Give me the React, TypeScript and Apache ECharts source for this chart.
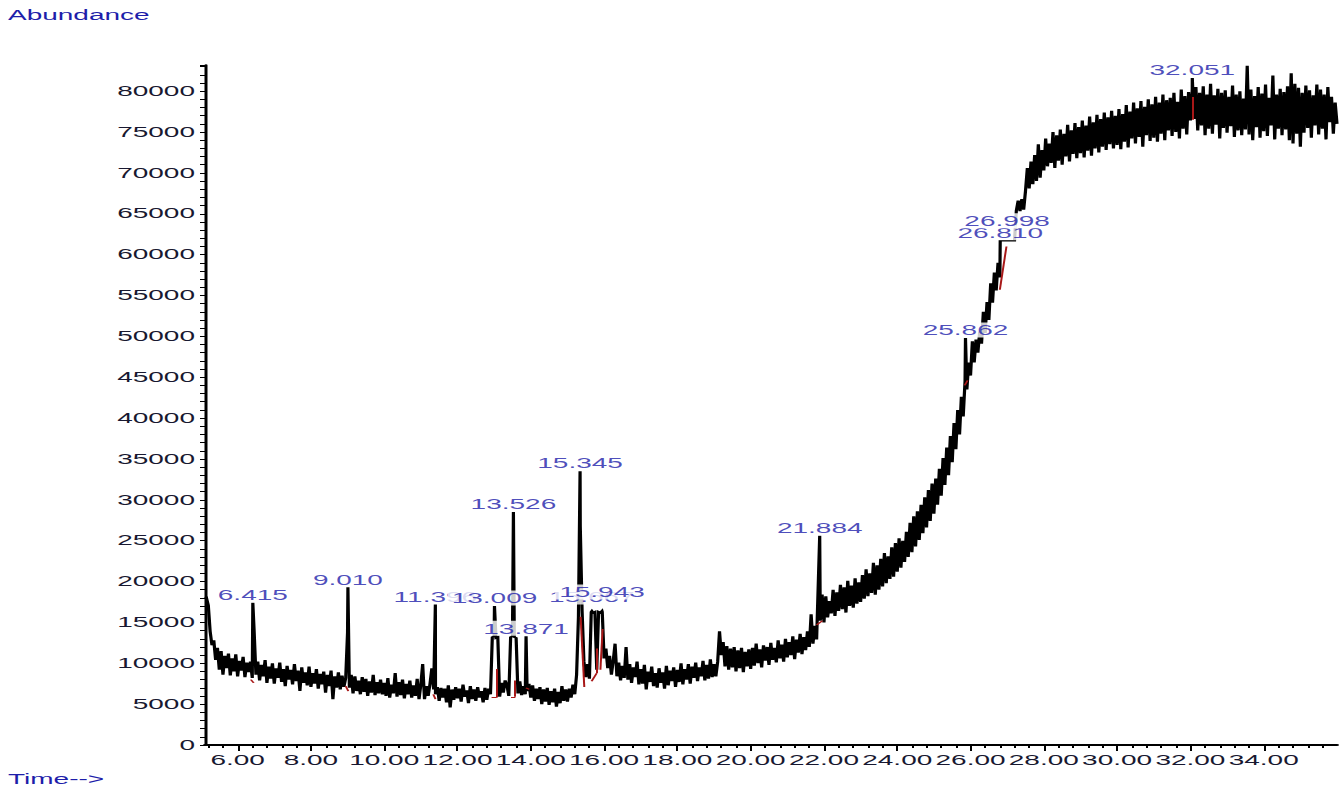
import { useEffect, useRef } from 'react';
import * as echarts from 'echarts';

// ---- layout of the drawing surface (the original is stretched 2x horizontally) ----
const CHART_W = 671.5;
const CHART_H = 791;
const FONT = "'Liberation Sans', Arial, sans-serif";

// ---- data: total ion current, abundance in thousands, one scan every 0.05 min ----
const scanStep = 0.05;
const segmentStart = [5.1, 10.0, 15.0, 20.0, 25.0, 30.0];

const tic05 = [
  17.9, 18.0, 17.1, 13.9, 12.2, 12.8, 10.4, 11.9,
  9.2, 11.5, 8.6, 10.9, 9.4, 11.2, 8.5, 10.6, 9.0, 11.1,
  8.4, 10.3, 9.1, 10.8, 8.3, 10.1, 8.9, 10.2, 8.2, 14.0,
  8.6, 10.2, 7.9, 9.8, 8.4, 10.4, 7.6, 9.6, 8.1, 10.0,
  7.5, 9.4, 8.2, 10.1, 7.7, 9.3, 7.2, 9.7, 8.0, 9.2,
  7.4, 9.9, 7.8, 9.1, 6.6, 9.5, 7.6, 8.9, 7.3, 9.6,
  7.1, 8.8, 7.5, 9.3, 6.9, 8.7, 7.4, 9.0, 6.4, 8.6,
  7.2, 9.1, 5.6, 8.4, 7.0, 8.9, 6.8, 8.5, 7.1, 8.2,
  13.8, 7.0, 8.6, 6.3, 8.4, 6.6, 7.9, 6.2, 8.3, 6.5,
  8.1, 6.0, 7.8, 6.4, 8.6, 6.1, 7.7, 6.3, 8.0, 6.2,
];
const tic10 = [
  7.6, 6.0, 8.2, 5.8, 7.4, 6.3, 8.8, 5.9, 7.7, 6.1,
  8.0, 5.7, 7.5, 6.2, 7.9, 5.8, 7.3, 6.0, 8.1, 5.6,
  7.4, 9.9, 5.6, 7.2, 6.0, 7.5, 9.4, 6.8, 6.2, 7.1,
  5.4, 7.0, 5.8, 6.9, 5.2, 7.3, 4.6, 6.8, 5.5, 7.1,
  5.7, 6.9, 5.3, 7.4, 5.9, 6.7, 5.1, 7.2, 5.6, 6.8,
  5.4, 7.1, 5.8, 6.6, 5.2, 7.0, 5.5, 6.9, 6.2, 13.2,
  13.3, 13.1, 13.2, 5.9, 7.6, 6.4, 7.9, 7.3, 6.0, 13.2,
  13.3, 13.2, 13.1, 6.3, 7.8, 6.1, 7.2, 6.2, 6.6, 7.5,
  5.8, 7.3, 5.4, 6.9, 5.6, 7.1, 5.0, 6.8, 5.3, 7.0,
  4.9, 6.6, 5.2, 6.9, 4.7, 6.5, 5.1, 7.2, 5.4, 6.8,
];
const tic15 = [
  5.3, 6.9, 5.8, 7.4, 6.2, 8.6, 15.6, 26.8, 16.4, 10.2,
  8.3, 9.9, 8.1, 16.3, 16.2, 16.3, 9.2, 16.3, 16.2, 16.3,
  10.6, 11.8, 9.4, 10.9, 8.6, 10.3, 12.4, 8.4, 10.1, 7.9,
  9.7, 8.2, 12.0, 8.0, 9.9, 7.6, 9.5, 8.3, 10.2, 7.4,
  9.3, 7.5, 9.8, 6.8, 9.0, 7.7, 9.6, 7.2, 8.8, 7.0,
  9.4, 7.6, 8.9, 6.9, 9.7, 7.3, 9.1, 7.8, 9.5, 7.1,
  9.2, 7.7, 10.0, 7.4, 9.3, 8.0, 9.9, 7.5, 9.6, 8.2,
  10.1, 7.8, 9.5, 8.4, 10.3, 7.9, 9.8, 8.1, 10.5, 8.3,
  9.9, 8.4, 10.2, 13.9, 11.0, 12.6, 9.6, 12.1, 9.2, 11.8,
  9.5, 12.0, 9.0, 11.6, 9.4, 11.9, 8.9, 11.4, 9.6, 11.7,
];
const tic20 = [
  9.3, 11.9, 9.7, 12.4, 10.0, 11.7, 9.5, 12.2, 10.3, 12.0,
  9.8, 12.5, 10.4, 11.9, 10.1, 12.8, 10.6, 12.3, 10.2, 13.0,
  10.7, 12.6, 11.0, 13.3, 10.5, 12.9, 11.3, 13.6, 11.1, 13.2,
  11.6, 13.9, 12.0, 16.0, 12.4, 14.6, 12.9, 20.5, 15.2, 18.4,
  15.0, 18.2, 15.6, 17.6, 16.1, 19.0, 15.8, 18.7, 16.4, 19.6,
  16.6, 19.3, 16.2, 20.1, 17.0, 19.5, 16.8, 20.4, 17.3, 19.9,
  17.5, 20.8, 17.9, 21.5, 18.2, 21.0, 18.6, 22.3, 18.4, 22.0,
  19.0, 22.8, 19.4, 23.5, 19.8, 23.1, 20.3, 24.2, 20.6, 24.7,
  21.2, 25.3, 21.7, 25.0, 22.4, 26.1, 23.0, 27.2, 23.6, 28.0,
  24.3, 28.6, 25.1, 29.4, 25.9, 30.3, 26.6, 31.2, 27.4, 32.0,
];
const tic25 = [
  28.3, 32.6, 29.4, 33.8, 30.5, 35.1, 31.8, 36.4, 33.0, 37.8,
  34.6, 39.4, 36.2, 41.0, 38.0, 42.6, 40.2, 44.5, 43.5, 46.8,
  45.2, 49.4, 46.8, 49.6, 48.0, 50.6, 49.1, 53.0, 50.4, 54.2,
  52.0, 56.5, 54.1, 57.8, 55.6, 59.0, 57.2, 61.7, 61.7, 61.7,
  61.7, 61.7, 61.7, 61.7, 61.7, 65.4, 66.6, 65.3, 66.8, 65.5,
  67.8, 70.6, 68.1, 71.4, 68.6, 72.2, 69.0, 73.5, 69.4, 72.8,
  70.3, 74.2, 70.8, 73.6, 71.2, 75.0, 70.6, 74.6, 71.5, 75.3,
  71.0, 74.8, 72.0, 75.9, 71.4, 75.2, 72.3, 76.1, 71.8, 75.6,
  72.4, 76.4, 71.9, 75.8, 72.7, 76.9, 72.1, 76.2, 73.0, 77.1,
  72.5, 76.6, 73.2, 77.4, 72.8, 76.8, 73.5, 77.6, 73.0, 77.0,
];
const tic30 = [
  73.4, 77.8, 72.9, 77.2, 73.8, 78.3, 73.1, 77.5, 74.2, 78.6,
  73.6, 77.9, 74.4, 78.8, 73.2, 78.1, 74.6, 79.0, 73.9, 78.4,
  74.3, 79.3, 73.8, 78.6, 74.8, 79.6, 74.0, 78.9, 75.2, 79.2,
  74.5, 79.8, 75.0, 78.7, 74.2, 80.2, 75.4, 79.4, 74.7, 79.9,
  76.4, 80.2, 76.6, 80.5, 75.2, 79.8, 75.8, 80.6, 74.6, 79.6,
  75.4, 80.9, 74.8, 79.5, 75.9, 80.3, 74.2, 79.8, 75.5, 80.1,
  74.9, 79.3, 75.7, 80.7, 74.4, 79.6, 75.2, 80.0, 74.6, 79.1,
  75.3, 83.1, 74.7, 80.2, 74.0, 79.4, 75.6, 80.5, 74.3, 79.7,
  75.1, 80.8, 74.5, 79.2, 75.8, 81.9, 74.1, 79.6, 75.4, 80.3,
  74.6, 79.9, 75.3, 80.6, 74.0, 82.2, 73.6, 80.9, 74.8, 80.4,
  73.2, 79.8, 74.9, 80.7, 75.5, 80.1, 74.3, 79.5, 75.8, 80.8,
  74.7, 80.2, 75.4, 79.6, 74.1, 80.5, 76.2, 79.3, 74.8, 78.6,
  76.0,
];
const ticSegments = [tic05, tic10, tic15, tic20, tic25, tic30];

// ---- integrated peaks: apex time (min), apex abundance, label ----
const peakTime = [6.415, 9.01, 11.396, 13.009, 13.526, 13.871, 15.345, 15.667, 15.943, 21.884, 25.862, 26.81, 26.998, 32.051];
const peakAbundance = [17400, 19300, 17200, 17000, 28500, 13300, 33500, 16400, 16400, 25600, 49800, 61700, 61700, 81600];
const peakLabel = ['6.415', '9.010', '11.396', '13.009', '13.526', '13.871', '15.345', '15.667', '15.943', '21.884', '25.862', '26.810', '26.998', '32.051'];
// extra upward shift of a label that the instrument stacked above a neighbour
const peakLabelLift = [0, 0, 0, 0, 0, 0, 0, 6, 11, 0, 0, 0, 12, 0];

// ---- integration marks (red): [t1, abundance1, t2, abundance2] ----
const integrationMarks = [
  [6.36, 8000, 6.44, 7600],
  [8.95, 7200, 9.02, 6600],
  [11.34, 6200, 11.4, 5600],
  [12.93, 5800, 13.07, 5800],
  [13.07, 5800, 13.07, 9300],
  [13.46, 5900, 13.58, 5900],
  [13.58, 5900, 13.58, 7900],
  [13.87, 7000, 13.96, 6800],
  [15.36, 15700, 15.46, 7100],
  [15.66, 7800, 15.8, 8800],
  [15.8, 8800, 15.81, 11800],
  [15.9, 9200, 15.96, 14200],
  [21.8, 14700, 21.96, 15200],
  [25.84, 44000, 25.92, 44600],
  [26.8, 55700, 26.98, 61000],
  [32.06, 79300, 32.07, 76500],
];

// ---- axes ----
const timeMin = 5.11;
const timeMax = 36.0;
const abundanceMax = 83200;
const xMajorTicks = [6, 8, 10, 12, 14, 16, 18, 20, 22, 24, 26, 28, 30, 32, 34];
const xMinorStep = 0.4;
const yLabelValues = [0, 5000, 10000, 15000, 20000, 25000, 30000, 35000, 40000, 45000, 50000, 55000, 60000, 65000, 70000, 75000, 80000];

const AXIS_TEXT = '#181830';
const BLUE_TEXT = '#1e1eaa';

export default function App() {
  const ref = useRef<HTMLDivElement>(null);

  useEffect(() => {
    const el = ref.current;
    if (!el) return;
    const chart = echarts.init(el, null, { renderer: 'svg', width: CHART_W, height: CHART_H });

    const tic: [number, number][] = [];
    ticSegments.forEach((seg, s) => {
      seg.forEach((k, i) => {
        tic.push([+(segmentStart[s] + i * scanStep).toFixed(3), Math.round(k * 1000)]);
      });
    });
    peakTime.forEach((t, i) => tic.push([t, peakAbundance[i]]));
    tic.sort((a, b) => a[0] - b[0]);

    const minorTicks: number[] = [];
    for (let k = Math.ceil(timeMin / xMinorStep); k * xMinorStep < timeMax - 0.01; k++) {
      minorTicks.push(+(k * xMinorStep).toFixed(1));
    }

    const option: any = {
      animation: false,
      backgroundColor: '#ffffff',
      title: {
        text: 'Abundance',
        left: 4,
        top: 8,
        padding: 0,
        textStyle: { fontSize: 14, fontWeight: 'normal', color: BLUE_TEXT, fontFamily: FONT, lineHeight: 14 },
      },
      graphic: [
        {
          type: 'text',
          left: 4,
          top: 772,
          style: { text: 'Time-->', fontSize: 14, fontFamily: FONT, fill: BLUE_TEXT },
        },
      ],
      grid: { left: 102.5, right: 3, top: 65, bottom: 46, containLabel: false },
      xAxis: [
        {
          type: 'value',
          min: timeMin,
          max: timeMax,
          position: 'bottom',
          axisLine: { show: true, onZero: false, lineStyle: { color: '#000', width: 2 } },
          axisTick: { show: true, customValues: minorTicks, length: 3, lineStyle: { color: '#000', width: 1 } },
          axisLabel: { show: false },
          splitLine: { show: false },
        },
        {
          type: 'value',
          min: timeMin,
          max: timeMax,
          position: 'bottom',
          axisLine: { show: false, onZero: false },
          axisTick: { show: true, customValues: xMajorTicks, length: 6, lineStyle: { color: '#000', width: 1 } },
          axisLabel: {
            show: true,
            customValues: xMajorTicks,
            formatter: (v: number) => v.toFixed(2),
            margin: 8,
            fontSize: 14,
            fontFamily: FONT,
            color: AXIS_TEXT,
          },
          splitLine: { show: false },
        },
      ],
      yAxis: {
        type: 'value',
        min: 0,
        max: abundanceMax,
        interval: 1000,
        axisLine: { show: true, onZero: false, lineStyle: { color: '#000', width: 1.5 } },
        axisTick: { show: true, length: 2.5, lineStyle: { color: '#000', width: 1 } },
        axisLabel: {
          show: true,
          customValues: yLabelValues,
          formatter: (v: number) => String(v),
          margin: 5,
          fontSize: 14,
          fontFamily: FONT,
          color: AXIS_TEXT,
        },
        splitLine: { show: false },
      },
      series: [
        {
          type: 'line',
          name: 'TIC',
          xAxisIndex: 0,
          data: tic,
          showSymbol: false,
          symbol: 'none',
          clip: true,
          z: 2,
          lineStyle: { color: '#000000', width: 1.6, join: 'miter', miterLimit: 4 },
          silent: true,
        },
        {
          type: 'lines',
          name: 'integration',
          coordinateSystem: 'cartesian2d',
          xAxisIndex: 0,
          yAxisIndex: 0,
          z: 4,
          silent: true,
          lineStyle: { color: '#a81818', width: 1, opacity: 1, curveness: 0 },
          data: integrationMarks.map((m) => ({ coords: [[m[0], m[1]], [m[2], m[3]]] })),
        },
        {
          type: 'scatter',
          name: 'peaks',
          xAxisIndex: 0,
          z: 10,
          symbol: 'circle',
          symbolSize: 1,
          silent: true,
          itemStyle: { color: 'rgba(0,0,0,0)' },
          data: peakTime.map((t, i) => ({
            value: [t, peakAbundance[i]],
            name: peakLabel[i],
            label: { distance: peakLabelLift[i] },
          })),
          label: {
            show: true,
            position: 'top',
            distance: 0,
            formatter: '{b}',
            fontSize: 14,
            fontFamily: FONT,
            color: BLUE_TEXT,
            backgroundColor: '#ffffff',
            padding: [1, 2, 0, 2],
            lineHeight: 14,
          },
        },
      ],
    };

    chart.setOption(option);
    return () => chart.dispose();
  }, []);

  return (
    <div
      ref={ref}
      style={{
        position: 'fixed',
        left: 0,
        top: 0,
        width: CHART_W,
        height: CHART_H,
        transform: 'scaleX(2)',
        transformOrigin: '0 0',
        background: '#ffffff',
      }}
    />
  );
}
